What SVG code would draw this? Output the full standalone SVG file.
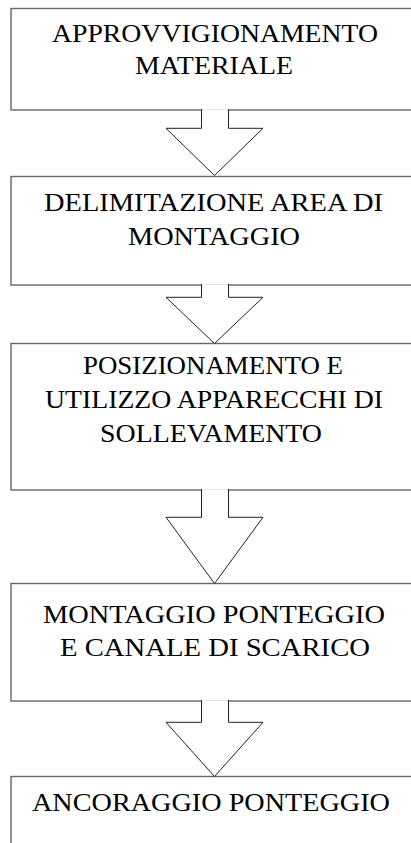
<svg xmlns="http://www.w3.org/2000/svg" width="411" height="843" viewBox="0 0 411 843">
<style>
.box{fill:#fff;stroke:#666;stroke-width:1.4}
.lbl{font-family:"Liberation Serif","Times New Roman",serif;font-size:25.5px;fill:#000;text-anchor:middle}
.arr{fill:#fff;stroke:#222;stroke-width:1}
</style>
<rect width="411" height="843" fill="#fff"/>
<g id="n1">
<rect class="box" x="11" y="8.5" width="410" height="101.5"/>
<text class="lbl" x="215" y="41.5" textLength="326" lengthAdjust="spacingAndGlyphs">APPROVVIGIONAMENTO</text>
<text class="lbl" x="214" y="73.5" textLength="158" lengthAdjust="spacingAndGlyphs">MATERIALE</text>
</g>
<g id="n2">
<rect class="box" x="11" y="176.5" width="410" height="108.5"/>
<text class="lbl" x="213.5" y="211" textLength="339" lengthAdjust="spacingAndGlyphs">DELIMITAZIONE AREA DI</text>
<text class="lbl" x="214" y="244.5" textLength="172" lengthAdjust="spacingAndGlyphs">MONTAGGIO</text>
</g>
<g id="n3">
<rect class="box" x="11" y="343.5" width="410" height="146.5"/>
<text class="lbl" x="213" y="373.5" textLength="260" lengthAdjust="spacingAndGlyphs">POSIZIONAMENTO E</text>
<text class="lbl" x="214" y="407.5" textLength="338" lengthAdjust="spacingAndGlyphs">UTILIZZO APPARECCHI DI</text>
<text class="lbl" x="211" y="441.5" textLength="222" lengthAdjust="spacingAndGlyphs">SOLLEVAMENTO</text>
</g>
<g id="n4">
<rect class="box" x="11" y="583.5" width="410" height="117.5"/>
<text class="lbl" x="214" y="622.5" textLength="342" lengthAdjust="spacingAndGlyphs">MONTAGGIO PONTEGGIO</text>
<text class="lbl" x="215" y="656" textLength="310" lengthAdjust="spacingAndGlyphs">E CANALE DI SCARICO</text>
</g>
<g id="n5">
<rect class="box" x="11" y="776.5" width="410" height="80"/>
<text class="lbl" x="211" y="811" textLength="358" lengthAdjust="spacingAndGlyphs">ANCORAGGIO PONTEGGIO</text>
</g>
<g id="connectors">
<path class="arr" d="M201.5,109.2 V128.3 H166 L214.5,175.5 L263,128.3 H228.5 V109.2"/>
<path class="arr" d="M201.5,284.2 V297.3 H166 L214.5,343.5 L263,297.3 H228.5 V284.2"/>
<path class="arr" d="M201.5,489.2 V517.3 H166 L214.5,583.5 L263,517.3 H228.5 V489.2"/>
<path class="arr" d="M201.5,700.2 V722.3 H166 L214.5,776.5 L263,722.3 H228.5 V700.2"/>
</g>
</svg>
